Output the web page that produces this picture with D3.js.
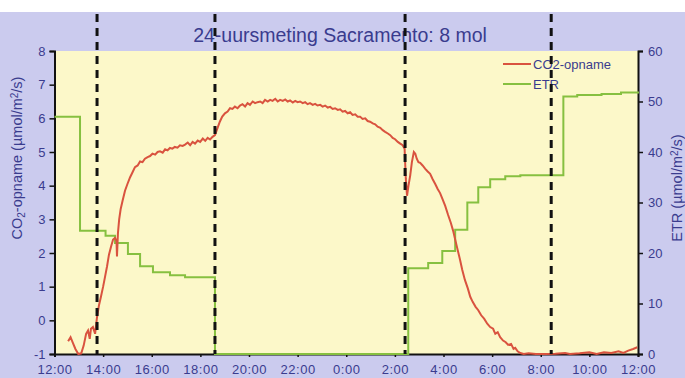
<!DOCTYPE html>
<html>
<head>
<meta charset="utf-8">
<script src="https://cdn.jsdelivr.net/npm/d3@7"></script>
<style>
body { margin: 0; background: #fff; }
svg { display: block; font-family: "Liberation Sans", Arial, sans-serif; }
</style>
</head>
<body>
<svg id="chart" width="685" height="378"></svg>
<script>
var titleText = "24-uursmeting Sacramento: 8 mol";
var tickHours = [0, 2, 4, 6, 8, 10, 12, 14, 16, 18, 20, 22, 24];
var timeLabels = ["12:00", "14:00", "16:00", "18:00", "20:00", "22:00", "0:00", "2:00", "4:00", "6:00", "8:00", "10:00", "12:00"];
var co2Ticks = [-1, 0, 1, 2, 3, 4, 5, 6, 7, 8];
var etrTicks = [0, 10, 20, 30, 40, 50, 60];
// light switches (hours after 12:00)
var dashHours = [1.75, 6.6, 14.42, 20.43];

// ETR steps [hours after 12:00, value]
var etrData = [[0, 47], [1.05, 24.4], [2.1, 23.4], [2.49, 22], [3.02, 19.8], [3.52, 17.4], [4.05, 16.2],
  [4.75, 15.6], [5.37, 15.2], [6.6, 0], [14.55, 17], [15.37, 18], [15.95, 20.4], [16.48, 24.6],
  [16.98, 30], [17.43, 33], [17.92, 34.6], [18.54, 35.2], [19.16, 35.4], [20.93, 51], [21.5, 51.3],
  [22.5, 51.5], [23.3, 51.8], [24, 52]];

// CO2 uptake [hours after 12:00, value]
var co2Data = [[0.56, -0.62], [0.66, -0.5], [0.76, -0.68], [0.86, -0.85], [0.98, -1.0], [1.1, -0.98],
  [1.2, -0.75], [1.3, -0.4], [1.38, -0.3], [1.45, -0.55], [1.5, -0.25], [1.58, -0.2], [1.67, -0.4],
  [1.75, 0.1], [1.83, 0.45], [1.91, 0.7], [2.0, 1.0], [2.08, 1.3], [2.16, 1.6], [2.24, 1.95],
  [2.33, 2.2], [2.41, 2.4], [2.49, 2.45], [2.55, 2.35], [2.57, 1.9], [2.61, 2.6], [2.66, 3.0],
  [2.72, 3.3], [2.8, 3.55], [2.9, 3.85], [3.0, 4.05], [3.11, 4.25], [3.21, 4.4], [3.31, 4.55],
  [3.42, 4.6], [3.52, 4.72], [3.62, 4.7], [3.72, 4.8], [3.83, 4.85], [3.93, 4.88], [4.03, 4.95],
  [4.14, 4.92], [4.24, 5.0], [4.34, 5.02], [4.45, 4.98], [4.55, 5.08], [4.65, 5.05], [4.75, 5.12],
  [4.85, 5.1], [4.95, 5.15], [5.06, 5.13], [5.16, 5.2], [5.27, 5.18], [5.37, 5.22], [5.48, 5.28],
  [5.58, 5.2], [5.68, 5.3], [5.78, 5.25], [5.89, 5.34], [5.99, 5.3], [6.1, 5.4], [6.2, 5.33],
  [6.3, 5.42], [6.4, 5.37], [6.5, 5.45], [6.6, 5.5], [6.7, 5.7], [6.8, 5.9], [6.9, 6.05],
  [7.01, 6.15], [7.12, 6.2], [7.22, 6.3], [7.32, 6.28], [7.42, 6.35], [7.53, 6.3], [7.63, 6.38],
  [7.73, 6.42], [7.84, 6.35], [7.94, 6.45], [8.04, 6.4], [8.15, 6.5], [8.25, 6.45], [8.35, 6.48],
  [8.46, 6.5], [8.56, 6.45], [8.66, 6.55], [8.77, 6.5], [8.87, 6.55], [8.97, 6.52], [9.08, 6.58],
  [9.18, 6.5], [9.28, 6.55], [9.39, 6.52], [9.49, 6.56], [9.59, 6.5], [9.69, 6.53], [9.8, 6.47],
  [9.9, 6.52], [10.0, 6.48], [10.1, 6.5], [10.21, 6.45], [10.31, 6.48], [10.41, 6.42], [10.51, 6.45],
  [10.62, 6.4], [10.72, 6.43], [10.82, 6.38], [10.93, 6.4], [11.03, 6.35], [11.13, 6.38], [11.24, 6.32],
  [11.34, 6.34], [11.44, 6.28], [11.54, 6.3], [11.65, 6.25], [11.75, 6.27], [11.85, 6.2], [11.95, 6.22],
  [12.06, 6.15], [12.16, 6.18], [12.26, 6.1], [12.37, 6.12], [12.47, 6.05], [12.57, 6.05], [12.67, 5.98],
  [12.78, 6.0], [12.88, 5.92], [12.98, 5.9], [13.09, 5.85], [13.19, 5.82], [13.29, 5.75], [13.4, 5.72],
  [13.5, 5.65], [13.6, 5.6], [13.71, 5.55], [13.81, 5.5], [13.91, 5.42], [14.01, 5.38], [14.12, 5.3],
  [14.22, 5.25], [14.32, 5.2], [14.4, 5.1], [14.45, 4.2], [14.5, 3.7], [14.56, 4.0], [14.63, 4.3],
  [14.7, 4.7], [14.78, 5.0], [14.84, 4.95], [14.9, 4.8], [14.97, 4.7], [15.04, 4.68], [15.14, 4.6],
  [15.25, 4.5], [15.35, 4.42], [15.45, 4.35], [15.55, 4.2], [15.66, 4.05], [15.76, 3.9], [15.86, 3.78],
  [15.96, 3.6], [16.07, 3.4], [16.19, 3.13], [16.3, 2.9], [16.4, 2.65], [16.48, 2.4], [16.58, 2.1],
  [16.68, 1.8], [16.77, 1.5], [16.88, 1.2], [17.0, 0.95], [17.1, 0.7], [17.2, 0.55], [17.32, 0.4],
  [17.43, 0.3], [17.55, 0.15], [17.67, 0.05], [17.8, -0.1], [17.92, -0.2], [18.04, -0.25], [18.13, -0.4],
  [18.23, -0.35], [18.33, -0.5], [18.45, -0.6], [18.56, -0.65], [18.66, -0.73], [18.78, -0.7],
  [18.88, -0.85], [18.95, -0.82], [19.05, -0.92], [19.16, -0.97], [19.3, -1.0], [19.5, -0.98],
  [19.8, -1.0], [20.2, -1.0], [20.6, -0.99], [21.0, -0.97], [21.2, -1.0], [21.6, -0.98], [22.0, -0.95],
  [22.3, -1.0], [22.6, -0.95], [22.9, -0.97], [23.2, -0.92], [23.4, -0.97], [23.6, -0.9], [23.8, -0.85],
  [23.97, -0.8]];

var legendNames = ["CO2-opname", "ETR"];
var colors = {"co2": "#d9533f", "etr": "#86c040"};
var textColor = "#3a3c8e";

var svg = d3.select("#chart");
var padL = 54.5, padR = 638, padT = 51, padB = 354;

var x = d3.scaleLinear().domain([0, 24]).range([padL, padR]);
var yL = d3.scaleLinear().domain([-1, 8]).range([padB, padT]);
var yR = d3.scaleLinear().domain([0, 60]).range([padB, padT]);

// backgrounds
svg.append("rect").attr("x", 0).attr("y", 12).attr("width", 685).attr("height", 366).attr("fill", "#cbcbee");
svg.append("rect").attr("x", padL).attr("y", padT).attr("width", padR - padL).attr("height", padB - padT).attr("fill", "#fcf8c9");

svg.append("text").attr("x", 340).attr("y", 42).attr("text-anchor", "middle")
  .attr("font-size", 19.5).attr("fill", textColor).text(titleText);

// axes
var xAxis = svg.append("g").attr("transform", "translate(0," + padB + ")")
  .call(d3.axisBottom(x).tickValues(tickHours).tickSize(3).tickFormat(function(d, i){ return timeLabels[i]; }));
xAxis.selectAll("text").attr("y", 11).attr("font-size", 13).attr("letter-spacing", 0.5);

var lAxis = svg.append("g").attr("transform", "translate(" + padL + ",0)")
  .call(d3.axisLeft(yL).tickValues(co2Ticks).tickSize(5).tickFormat(function(d){ return String(d); }));
lAxis.selectAll("text").attr("x", -9).attr("font-size", 13);

var rAxis = svg.append("g").attr("transform", "translate(" + padR + ",0)")
  .call(d3.axisRight(yR).tickValues(etrTicks).tickSize(5));
rAxis.selectAll("text").attr("x", 10).attr("font-size", 13);

svg.selectAll(".domain").attr("stroke", "#111").attr("stroke-width", 2);
svg.selectAll(".tick line").attr("stroke", "#111").attr("stroke-width", 1.5);
svg.selectAll(".tick text").attr("fill", textColor).attr("font-family", "Liberation Sans, Arial, sans-serif");

// axis titles
svg.append("text").attr("transform", "translate(22,158) rotate(-90)").attr("text-anchor", "middle")
  .attr("font-size", 14.5).attr("fill", textColor)
  .html("CO<tspan font-size='10' dy='3'>2</tspan><tspan dy='-3'>-opname (µmol/m</tspan><tspan font-size='10' dy='-4'>2</tspan><tspan dy='4'>/s)</tspan>");
svg.append("text").attr("transform", "translate(682,188) rotate(-90)").attr("text-anchor", "middle")
  .attr("font-size", 14.5).attr("fill", textColor)
  .html("ETR (µmol/m<tspan font-size='10' dy='-4'>2</tspan><tspan dy='4'>/s)</tspan>");

// series
var etrLine = d3.line().x(function(d){ return x(d[0]); }).y(function(d){ return yR(d[1]); }).curve(d3.curveStepAfter);
svg.append("path").attr("d", etrLine(etrData)).attr("fill", "none").attr("stroke", colors.etr).attr("stroke-width", 2);

var co2Line = d3.line().x(function(d){ return x(d[0]); }).y(function(d){ return yL(d[1]); });
svg.append("path").attr("d", co2Line(co2Data)).attr("fill", "none").attr("stroke", colors.co2).attr("stroke-width", 2);

// legend
var leg = svg.selectAll(".leg").data(legendNames).enter().append("g")
  .attr("transform", function(d, i){ return "translate(503," + (64 + i * 20) + ")"; });
leg.append("line").attr("x1", 0).attr("x2", 28).attr("y1", 0).attr("y2", 0)
  .attr("stroke", function(d, i){ return i == 0 ? colors.co2 : colors.etr; }).attr("stroke-width", 2);
leg.append("text").attr("x", 30).attr("y", 5).attr("font-size", 13).attr("fill", textColor).text(function(d){ return d; });

// dashed markers
svg.selectAll(".dash").data(dashHours).enter().append("line")
  .attr("x1", function(d){ return x(d); }).attr("x2", function(d){ return x(d); })
  .attr("y1", 14).attr("y2", padB)
  .attr("stroke", "#111").attr("stroke-width", 3).attr("stroke-dasharray", "8,6");
</script>
</body>
</html>
